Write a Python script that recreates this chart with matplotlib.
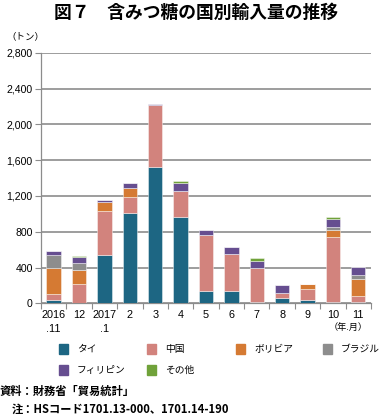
import matplotlib
matplotlib.use("Agg")
import matplotlib.pyplot as plt
import numpy as np

plt.rcParams['font.family'] = ['Noto Sans CJK JP', 'DejaVu Sans']

# data (tons)
months = ["2016\n.11", "12", "2017\n.1", "2", "3", "4", "5", "6", "7", "8", "9", "10", "11"]
thai        = [37,   0, 540, 1012, 1526, 967, 141, 137,  18, 63,  40,  18,  18]
china       = [63, 219, 491,  175,  686, 291, 625, 417, 373, 52, 123, 726,  64]
bolivia     = [294, 149, 97,  101,    0,   0,   0,   0,   0,  0,  49,  78, 189]
brazil      = [149,  82,  5,    0,    0,   0,   0,   0,   0,  0,   0,  34,  42]
philippines = [41,  67,  21,   52,   14,  82,  56,  75,  85, 89,   0,  86,  89]
others      = [0,   15,   0,    0,    0,  23,   0,   0,  27,  0,   0,  25,   0]

series = [thai, china, bolivia, brazil, philippines, others]
names = ["タイ", "中国", "ボリビア", "ブラジル", "フィリピン", "その他"]
colors = ["#1d6683", "#d2837d", "#d57a33", "#8d8d8d", "#664e90", "#70a23a"]

fig = plt.figure(figsize=(3.85, 4.15), dpi=100)
ax = fig.add_axes([0.1065, 0.269, 0.857, 0.604])

x = np.arange(len(months))
bottom = np.zeros(len(months))
for vals, c in zip(series, colors):
    ax.bar(x, vals, bottom=bottom, width=0.57, color=c,
           edgecolor=(1, 1, 1, 0.5), linewidth=0.6, zorder=3)
    bottom += np.array(vals)

ax.set_ylim(0, 2800)
ax.set_xlim(-0.5, 12.5)
ax.set_yticks(np.arange(0, 2801, 400))
ax.set_yticklabels(["{:,}".format(v) for v in range(0, 2801, 400)],
                   family="Liberation Sans", fontsize=7.6)
ax.yaxis.grid(True, color="#8c8c8c", linewidth=1.2, zorder=0)
ax.tick_params(axis="y", length=4, width=0.8, color="#8c8c8c", pad=2)

ax.set_xticks(x)
ax.set_xticklabels(months, family="Liberation Sans", fontsize=7.8, linespacing=1.45)
ax.set_xticks(np.arange(-0.5, 13, 1), minor=True)
ax.tick_params(axis="x", which="major", length=0, pad=5)
ax.tick_params(axis="x", which="minor", length=4, width=0.8, color="#8c8c8c")

for s in ["top", "right"]:
    ax.spines[s].set_visible(False)
for s in ["left", "bottom"]:
    ax.spines[s].set_color("#8c8c8c")
    ax.spines[s].set_linewidth(0.9)

fig.text(0.51, 0.969, "図７　含みつ糖の国別輸入量の推移", ha="center", va="center",
         fontsize=12.8, fontweight="bold")
fig.text(0.018, 0.912, "（トン）", ha="left", va="center", fontsize=6.8)
fig.text(0.955, 0.212, "（年.月）", ha="right", va="center", fontsize=6.6)

# legend
leg_x = [59, 147, 236, 323]
leg_y = [349, 370]
for i, (n, c) in enumerate(zip(names, colors)):
    px = leg_x[i % 4]
    py = leg_y[i // 4]
    fig.patches.append(plt.Rectangle((px / 385, 1 - (py + 5) / 415), 9 / 385, 10 / 415,
                                     transform=fig.transFigure, color=c))
    fig.text((px + 18) / 385, 1 - py / 415, n, ha="left", va="center", fontsize=7)

fig.text(0.0, 1 - 391 / 415, "資料：財務省「貿易統計」", ha="left", va="center",
         fontsize=8.1, fontweight="bold")
fig.text(12 / 385, 1 - 409 / 415, "注：HSコード1701.13-000、1701.14-190", ha="left", va="center",
         fontsize=8.1, fontweight="bold")

fig.savefig("out.png", dpi=100)
